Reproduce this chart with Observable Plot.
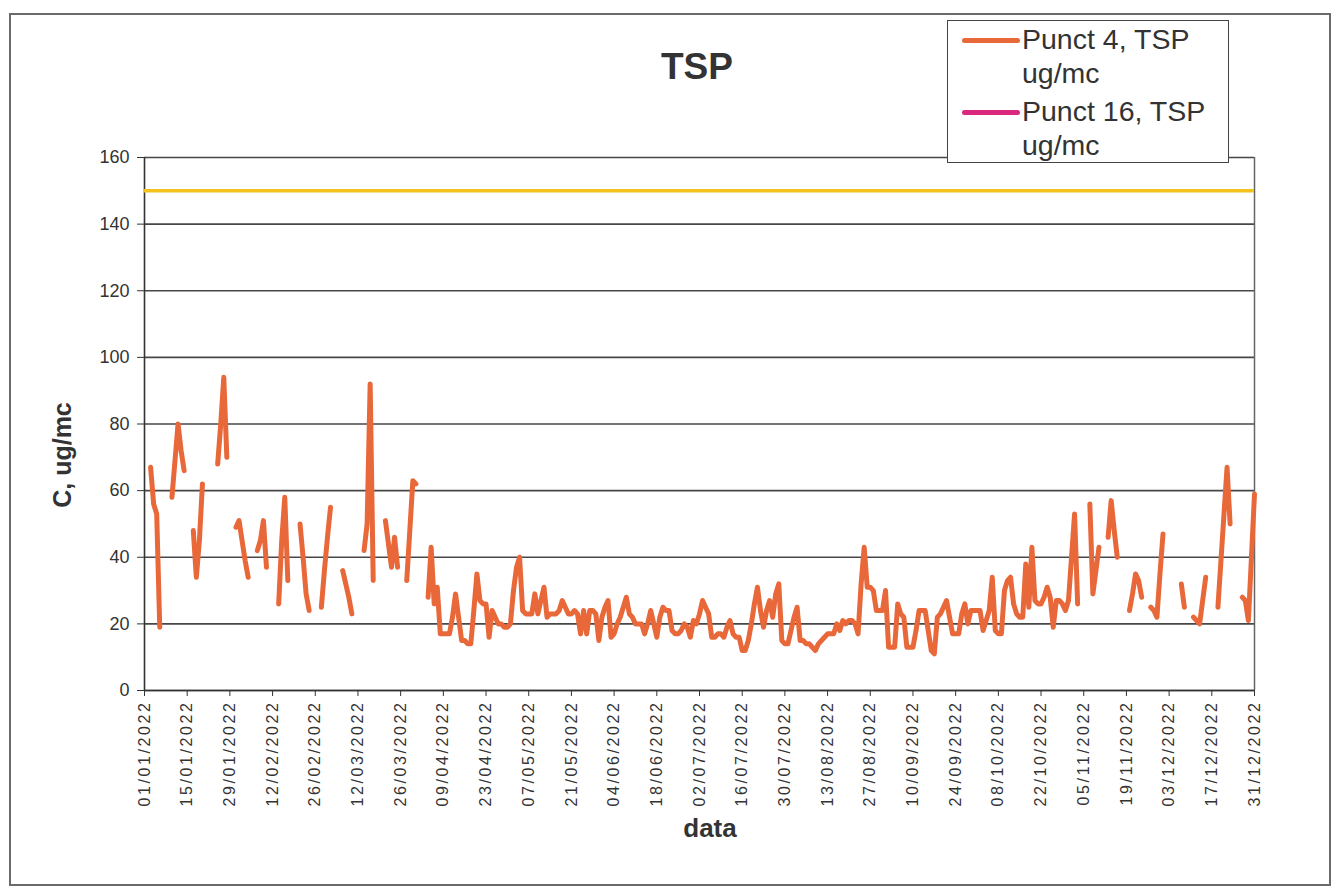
<!DOCTYPE html>
<html>
<head>
<meta charset="utf-8">
<script src="https://cdn.jsdelivr.net/npm/d3@7"></script>
<script src="https://cdn.jsdelivr.net/npm/@observablehq/plot@0.6"></script>
<style>
  body { margin: 0; background: #fff; font-family: Arial, "Liberation Sans", sans-serif; }
  #wrap { position: relative; width: 1341px; height: 889px; overflow: hidden; background: #fff; }
  #chart { position: absolute; left: 0; top: 0; }
  #border { position: absolute; left: 9px; top: 13px; width: 1322px; height: 873px; border: 2px solid #6a6a6a; box-sizing: border-box; }
  #title { position: absolute; left: 597px; top: 46px; width: 200px; text-align: center; font-weight: bold; font-size: 37px; color: #333; }
  #ylab { position: absolute; left: 62px; top: 455px; transform: translate(-50%, -50%) rotate(-90deg); white-space: nowrap; font-weight: bold; font-size: 25px; color: #333; }
  #xlab { position: absolute; left: 710px; top: 828px; transform: translate(-50%, -50%); font-weight: bold; font-size: 26px; color: #333; }
  #legend { position: absolute; left: 947px; top: 20px; width: 282px; height: 143px; border: 1.5px solid #444; background: #fff; box-sizing: border-box; z-index: 5; }
  .sw { position: absolute; width: 58px; height: 5px; border-radius: 2.5px; }
  .lt { position: absolute; font-size: 28.5px; line-height: 34px; color: #333; white-space: nowrap; }
</style>
</head>
<body>
<div id="wrap">
  <div id="chart"></div>
  <div id="border"></div>
  <div id="title"></div>
  <div id="ylab"></div>
  <div id="xlab"></div>
  <div id="legend"></div>
</div>
<script>
// ---- data ----
const titleText = "TSP";
const yLabel = "C, ug/mc";
const xLabel = "data";
const seriesNames = ["Punct 4, TSP ug/mc", "Punct 16, TSP ug/mc"];
const seriesColors = ["#e8683a", "#d9287d"];
const limitColor = "#f4c21c";
const limitValue = [150];
const yTicks = [0, 20, 40, 60, 80, 100, 120, 140, 160];
const dateStart = "2022-01-01";
const dateEnd = "2022-12-31";
const tickStepDays = 14;

// Punct 4 daily TSP, in continuous runs (start date, daily values)
const segStarts = [
  "2022-01-03", "2022-01-10", "2022-01-17", "2022-01-25", "2022-01-31",
  "2022-02-07", "2022-02-14", "2022-02-21", "2022-02-28", "2022-03-07",
  "2022-03-14", "2022-03-21", "2022-03-28", "2022-04-04", "2022-11-07",
  "2022-11-13", "2022-11-20", "2022-11-27", "2022-12-07", "2022-12-11",
  "2022-12-19", "2022-12-27"
];
const segValues = [
  [67, 56, 53, 19],
  [58, 69, 80, 72, 66],
  [48, 34, 45, 62],
  [68, 80, 94, 70],
  [49, 51, 45, 39, 34],
  [42, 45, 51, 37],
  [26, 45, 58, 33],
  [50, 40, 29, 24],
  [25, 36, 46, 55],
  [36, 32, 28, 23],
  [42, 50, 92, 33],
  [51, 44, 37, 46, 37],
  [33, 48, 63, 62],
  [28, 43, 26, 31, 17, 17, 17, 17, 22, 29,
   22, 15, 15, 14, 14, 24, 35, 27, 26, 26,
   16, 24, 22, 20, 20, 19, 19, 20, 30, 37,
   40, 24, 23, 23, 23, 29, 23, 27, 31, 22,
   23, 23, 23, 24, 27, 25, 23, 23, 24, 23,
   17, 24, 17, 24, 24, 23, 15, 22, 25, 27,
   16, 17, 20, 22, 25, 28, 23, 22, 20, 20,
   20, 17, 20, 24, 20, 16, 22, 25, 24, 24,
   18, 17, 17, 18, 20, 19, 16, 21, 20, 23,
   27, 25, 23, 16, 16, 17, 17, 16, 19, 21,
   17, 16, 16, 12, 12, 15, 20, 26, 31, 24,
   19, 24, 27, 22, 29, 32, 15, 14, 14, 18,
   22, 25, 15, 15, 14, 14, 13, 12, 14, 15,
   16, 17, 17, 17, 20, 18, 21, 20, 21, 21,
   20, 17, 32, 43, 31, 31, 30, 24, 24, 24,
   30, 13, 13, 13, 26, 23, 22, 13, 13, 13,
   18, 24, 24, 24, 18, 12, 11, 22, 23, 25,
   27, 22, 17, 17, 17, 23, 26, 20, 24, 24,
   24, 24, 18, 21, 24, 34, 18, 17, 17, 30,
   33, 34, 26, 23, 22, 22, 38, 25, 43, 27,
   26, 26, 28, 31, 28, 19, 27, 27, 26, 24,
   27, 40, 53, 26],
  [56, 29, 36, 43],
  [46, 57, 48, 40],
  [24, 29, 35, 33, 28],
  [25, 24, 22, 35, 47],
  [32, 25],
  [22, 21, 20, 27, 34],
  [25, 39, 53, 67, 50],
  [28, 27, 21, 40, 59]
];

// ---- build table ----
const parse = d3.utcParse("%Y-%m-%d");
const rows = [];
segStarts.forEach((s, i) => {
  const d0 = parse(s);
  segValues[i].forEach((v, k) => rows.push({date: d3.utcDay.offset(d0, k), value: v}));
  rows.push({date: d3.utcDay.offset(d0, segValues[i].length), value: null}); // gap
});
const x0 = parse(dateStart), x1 = parse(dateEnd);
const xTicks = d3.utcDay.range(x0, d3.utcDay.offset(x1, 1), tickStepDays);

const chart = Plot.plot({
  width: 1341,
  height: 889,
  marginLeft: 144,
  marginRight: 87,
  marginTop: 157,
  marginBottom: 199,
  style: {fontFamily: "Arial, 'Liberation Sans', sans-serif", color: "#333", background: "transparent", overflow: "visible"},
  x: {type: "utc", domain: [x0, x1]},
  y: {domain: [0, 160]},
  marks: [
    Plot.gridY(yTicks, {stroke: "#333", strokeOpacity: 0.9, strokeWidth: 1.6}),
    Plot.ruleX([x1], {stroke: "#666", strokeWidth: 1.5}),
    Plot.ruleX([x0], {stroke: "#333", strokeWidth: 1.6}),
    Plot.ruleY([0], {stroke: "#333", strokeWidth: 1.6}),
    Plot.ruleY(limitValue, {stroke: limitColor, strokeWidth: 3.5}),
    Plot.line(rows, {x: "date", y: "value", stroke: seriesColors[0], strokeWidth: 5, strokeLinejoin: "round", strokeLinecap: "round"}),
    Plot.axisY(yTicks, {label: null, tickSize: 7, tickPadding: 8, fontSize: 18, stroke: "#333"}),
    Plot.axisX(xTicks, {label: null, tickSize: 6, tickPadding: 4, tickRotate: -90, fontSize: 16,
      tickFormat: d3.utcFormat("%d/%m/%Y"), stroke: "#333"})
  ]
});
chart.querySelectorAll('g[aria-label="x-axis tick label"] text').forEach(t => t.setAttribute("letter-spacing", "2.6px"));
document.getElementById("chart").appendChild(chart);

document.getElementById("title").textContent = titleText;
document.getElementById("ylab").textContent = yLabel;
document.getElementById("xlab").textContent = xLabel;

// legend
const lg = document.getElementById("legend");
seriesNames.forEach((name, i) => {
  const parts = name.split(" ug/mc");
  const sw = document.createElement("div");
  sw.className = "sw";
  sw.style.left = "14px";
  sw.style.top = (17 + i * 72) + "px";
  sw.style.background = seriesColors[i];
  lg.appendChild(sw);
  const t = document.createElement("div");
  t.className = "lt";
  t.style.left = "74px";
  t.style.top = (1 + i * 72) + "px";
  t.innerHTML = parts[0] + "<br>ug/mc";
  lg.appendChild(t);
});
</script>
</body>
</html>
